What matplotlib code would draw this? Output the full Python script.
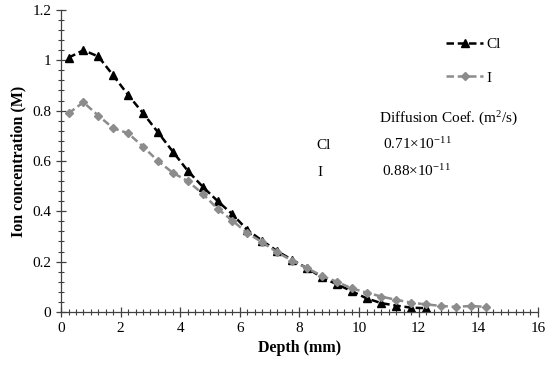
import matplotlib
matplotlib.use('Agg')
import matplotlib.pyplot as plt
from matplotlib.ticker import MultipleLocator, FuncFormatter
import numpy as np

# depth (mm) of each slice
depth_cl = np.arange(0.25, 12.3, 0.5)
depth_i = np.arange(0.25, 14.3, 0.5)

# ion concentration (M)
cl = [1.01, 1.04, 1.015, 0.94, 0.862, 0.79, 0.714, 0.637, 0.561, 0.498, 0.441, 0.388,
      0.326, 0.283, 0.242, 0.207, 0.174, 0.138, 0.11, 0.083, 0.054, 0.035, 0.025, 0.017, 0.015]
iodide = [0.789, 0.833, 0.78, 0.73, 0.71, 0.657, 0.60, 0.553, 0.52, 0.47, 0.41, 0.363,
          0.313, 0.277, 0.237, 0.204, 0.174, 0.144, 0.12, 0.094, 0.077, 0.061, 0.048, 0.037,
          0.03, 0.024, 0.02, 0.024, 0.02]

plt.rcParams['font.family'] = ['Liberation Serif', 'DejaVu Serif']
plt.rcParams['mathtext.fontset'] = 'custom'
plt.rcParams['mathtext.rm'] = 'Liberation Serif'
plt.rcParams['mathtext.it'] = 'Liberation Serif:italic'
plt.rcParams['mathtext.bf'] = 'Liberation Serif:bold'

fig = plt.figure(figsize=(5.5, 3.67), dpi=100)
ax = fig.add_axes([0.111, 0.150, 0.867, 0.823])

ax.plot(depth_cl, cl, '--', color='black', marker='^', markersize=6, linewidth=1.8,
        dashes=(3, 1.5), label='Cl')
ax.plot(depth_i, iodide, '--', color='#8c8c8c', marker='D', markersize=4.5, linewidth=1.8,
        dashes=(3, 1.5), label='I')

ax.set_xlim(0, 16)
ax.set_ylim(0, 1.2)
ax.xaxis.set_major_locator(MultipleLocator(2))
ax.xaxis.set_minor_locator(MultipleLocator(0.25))
ax.yaxis.set_major_locator(MultipleLocator(0.2))
ax.yaxis.set_minor_locator(MultipleLocator(0.04))
ax.yaxis.set_major_formatter(FuncFormatter(lambda v, p: ('%g' % round(v, 2))))

for s in ['top', 'right']:
    ax.spines[s].set_visible(False)
for s in ['left', 'bottom']:
    ax.spines[s].set_color('#404040')
    ax.spines[s].set_linewidth(0.9)
ax.tick_params(which='major', direction='inout', length=7, width=0.9, color='#404040',
               labelsize=11)
ax.tick_params(which='minor', direction='inout', length=4, width=0.8, color='#404040')

ax.set_xlabel('Depth (mm)', fontsize=11.5, fontweight='bold')
ax.set_ylabel('Ion concentration (M)', fontsize=11.5, fontweight='bold')

ax.legend(loc='upper right', bbox_to_anchor=(0.95, 0.955), frameon=False, fontsize=11,
          handlelength=2.4, labelspacing=1.3, handletextpad=0.2)

fig.text(0.69, 0.665, 'Diffusion Coef. (m$^{2}$/s)', fontsize=11)
fig.text(0.575, 0.593, 'Cl', fontsize=11)
fig.text(0.697, 0.593, '0.71×10$^{-11}$', fontsize=11)
fig.text(0.578, 0.52, 'I', fontsize=11)
fig.text(0.694, 0.52, '0.88×10$^{-11}$', fontsize=11)

fig.savefig('out.png', dpi=100)
